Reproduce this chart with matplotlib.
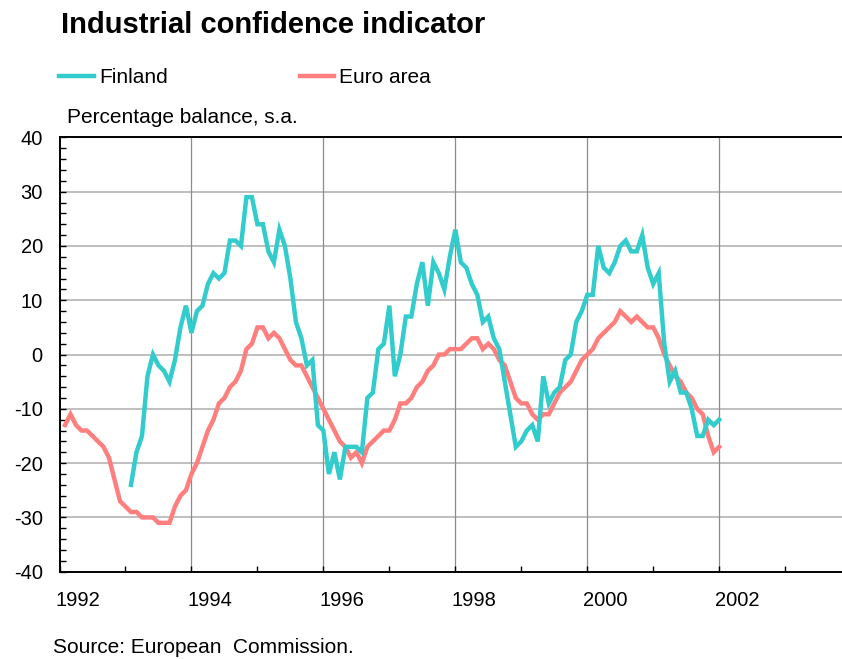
import matplotlib

matplotlib.use("Agg")
import numpy as np
from matplotlib import pyplot as plt
from matplotlib.lines import Line2D
from matplotlib.ticker import MultipleLocator
from matplotlib.transforms import ScaledTranslation

plt.rcParams["font.family"] = ["Liberation Sans", "DejaVu Sans"]
plt.rcParams["axes.unicode_minus"] = False

TEAL = "#33cccc"
PINK = "#ff7f7f"
INK = "#000000"
HGRID = "#b4b4b4"
VGRID = "#8c8c8c"

# monthly balances, euro area from Jan 1992, Finland from Jan 1993
euro_start = 1992
euro_area = [
    -13, -11, -13, -14, -14, -15, -16, -17, -19, -23, -27, -28,
    -29, -29, -30, -30, -30, -31, -31, -31, -28, -26, -25, -22,
    -20, -17, -14, -12, -9, -8, -6, -5, -3, 1, 2, 5,
    5, 3, 4, 3, 1, -1, -2, -2, -4, -6, -8, -10,
    -12, -14, -16, -17, -19, -18, -20, -17, -16, -15, -14, -14,
    -12, -9, -9, -8, -6, -5, -3, -2, 0, 0, 1, 1,
    1, 2, 3, 3, 1, 2, 1, -1, -2, -5, -8, -9,
    -9, -11, -12, -11, -11, -9, -7, -6, -5, -3, -1, 0,
    1, 3, 4, 5, 6, 8, 7, 6, 7, 6, 5, 5,
    3, 0, -2, -4, -5, -7, -8, -10, -11, -15, -18, -17,
]

finland_start = 1993
finland = [
    -24, -18, -15, -4, 0, -2, -3, -5, -1, 5, 9, 4,
    8, 9, 13, 15, 14, 15, 21, 21, 20, 29, 29, 24,
    24, 19, 17, 23, 20, 14, 6, 3, -2, -1, -13, -14,
    -22, -18, -23, -17, -17, -17, -18, -8, -7, 1, 2, 9,
    -4, 0, 7, 7, 13, 17, 9, 17, 15, 12, 18, 23,
    17, 16, 13, 11, 6, 7, 3, 1, -5, -11, -17, -16,
    -14, -13, -16, -4, -9, -7, -6, -1, 0, 6, 8, 11,
    11, 20, 16, 15, 17, 20, 21, 19, 19, 22, 16, 13,
    15, 2, -5, -3, -7, -7, -10, -15, -15, -12, -13, -12,
]

year_ticks = [1992, 1994, 1996, 1998, 2000, 2002]
y_ticks = [-40, -30, -20, -10, 0, 10, 20, 30, 40]

W, H = 842, 659
LEFT, TOP, BOTTOM = 59.5, 137.4, 571.7
PX_PER_YEAR = 65.97


def month_axis(start, n):
    return start + (np.arange(n) + 1) / 12


fig = plt.figure(figsize=(W / 100, H / 100), dpi=100, facecolor="white")
ax = fig.add_axes([LEFT / W, 1 - BOTTOM / H, 1 - LEFT / W, (BOTTOM - TOP) / H])

ax.plot(month_axis(euro_start, len(euro_area)), euro_area, color=PINK, linewidth=3.2,
        solid_joinstyle="miter", zorder=3)
ax.plot(month_axis(finland_start, len(finland)), finland, color=TEAL, linewidth=3.2,
        solid_joinstyle="miter", zorder=4)

ax.set_xlim(1992, 1992 + (W - LEFT) / PX_PER_YEAR)
ax.set_ylim(-40, 40)

ax.set_xticks(year_ticks)
ax.set_xticklabels([str(y) for y in year_ticks])
ax.xaxis.set_minor_locator(MultipleLocator(1))
ax.set_yticks(y_ticks)
ax.yaxis.set_minor_locator(MultipleLocator(2))

for y in y_ticks[1:-1]:
    ax.axhline(y, color=HGRID, linewidth=1.2, zorder=1)
for x in year_ticks[1:]:
    ax.axvline(x, color=VGRID, linewidth=0.9, zorder=1)

ax.spines["right"].set_visible(False)
for side in ("left", "bottom", "top"):
    ax.spines[side].set_color(INK)
    ax.spines[side].set_linewidth(1.4)

ax.tick_params(axis="both", which="both", direction="in", length=4, width=1, colors=INK,
               labelsize=14.5)
ax.tick_params(axis="y", which="both", pad=12)
ax.tick_params(axis="x", which="both", pad=14)
ax.tick_params(axis="x", which="both", top=False)

shift = ScaledTranslation(-4 / 100, 0, fig.dpi_scale_trans)
for label in ax.get_xticklabels():
    label.set_horizontalalignment("left")
    label.set_transform(label.get_transform() + shift)

fig.text(61 / W, 1 - 33.3 / H, "Industrial confidence indicator", fontsize=21,
         fontweight="bold", va="baseline", ha="left")

fig.add_artist(Line2D([59.3 / W, 94.3 / W], [1 - 76.3 / H] * 2, color=TEAL, linewidth=3.2))
fig.text(99.3 / W, 1 - 83.3 / H, "Finland", fontsize=15, va="baseline", ha="left")
fig.add_artist(Line2D([300 / W, 334 / W], [1 - 76.3 / H] * 2, color=PINK, linewidth=3.2))
fig.text(339 / W, 1 - 83.3 / H, "Euro area", fontsize=15, va="baseline", ha="left")

fig.text(66.7 / W, 1 - 123.3 / H, "Percentage balance, s.a.", fontsize=15,
         va="baseline", ha="left")
fig.text(52.7 / W, 1 - 653 / H, "Source: European  Commission.", fontsize=15,
         va="baseline", ha="left")

fig.savefig("out.png", dpi=100, facecolor="white")
